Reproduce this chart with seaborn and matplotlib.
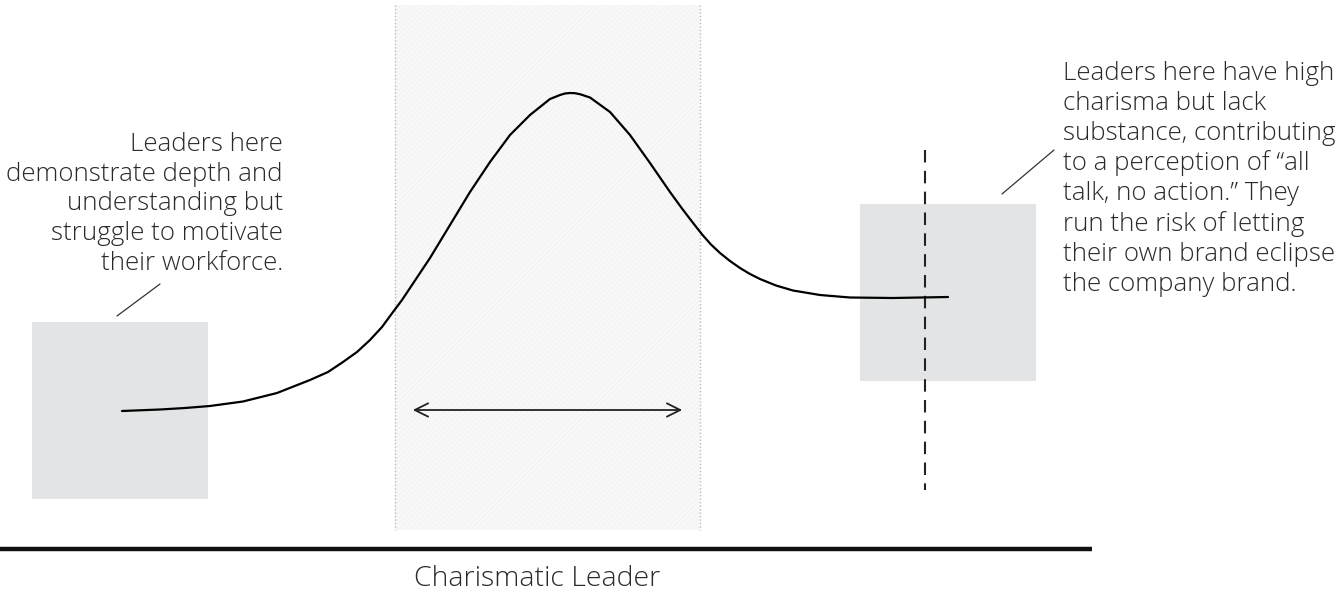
import matplotlib
matplotlib.use("Agg")
import matplotlib.pyplot as plt
import seaborn as sns
import pandas as pd
from matplotlib.patches import Rectangle

sns.set_theme(style="white")
plt.rcParams['font.family'] = ['Open Sans', 'DejaVu Sans']
plt.rcParams['hatch.linewidth'] = 0.6

# curve (x position, height in pixel units, y downward)
curve_x = [122, 160, 185, 210, 243, 277, 310, 328, 343, 357, 370, 382, 393, 402, 410, 430, 450, 470, 490,
           510, 530, 550, 560, 565, 570, 575, 580, 590, 610, 630, 650, 670, 682, 690, 697, 703, 711, 720, 730, 740,
           750, 760, 776, 793, 820, 850, 893, 948]
curve_y = [411, 409.5, 408, 406, 401.5, 393, 380, 372, 362, 352, 340, 327, 312, 300, 288, 258, 225, 192, 162,
           135, 115, 99, 95, 93.5, 93, 93.2, 94.2, 97.5, 112, 135, 163, 192, 208.5, 219, 228, 235.5, 244.5, 253, 261, 268,
           274, 279, 285.5, 290.5, 295, 297.5, 298, 297]

left_text = "Leaders here\ndemonstrate depth and\nunderstanding but\nstruggle to motivate\ntheir workforce."
right_text = ("Leaders here have high\ncharisma but lack\nsubstance, contributing\n"
              "to a perception of \u201call\ntalk, no action.\u201d They\nrun the risk of letting\n"
              "their own brand eclipse\nthe company brand.")
axis_label = "Charismatic Leader"

W, H = 1342, 592
fig = plt.figure(figsize=(W / 100, H / 100), dpi=100)
ax = fig.add_axes([0, 0, 1, 1])

# shaded middle band
ax.add_patch(Rectangle((395, 5), 305, 525, facecolor="#f8f8f8", edgecolor="#f2f2f2",
                       hatch="//////", linewidth=0, zorder=0))
for xv in (395, 700):
    ax.plot([xv, xv], [5, 530], color="#bbbbbb", lw=1, ls=(0, (1, 1.5)), zorder=1)

# grey squares
ax.add_patch(Rectangle((32, 322), 176, 177, facecolor="#e3e4e5", edgecolor="none", zorder=1))
ax.add_patch(Rectangle((860, 204), 176, 177, facecolor="#e3e4e5", edgecolor="none", zorder=1))

# dashed vertical
ax.plot([925, 925], [150, 490], color="#222222", lw=1.5, ls=(0, (6, 4)), zorder=3)

# curve
df = pd.DataFrame({"x": curve_x, "y": curve_y})
sns.lineplot(data=df, x="x", y="y", ax=ax, color="black", lw=1.6, sort=False,
             estimator=None, zorder=4)
ax.lines[-1].set_solid_joinstyle("round")
ax.set_xlim(0, W)
ax.set_ylim(H, 0)
ax.axis("off")

# double arrow
ax.annotate("", xy=(685, 410), xytext=(410, 410),
            arrowprops=dict(arrowstyle="<->,head_length=0.8,head_width=0.4", color="#222222", lw=1.3))

# leader lines
ax.plot([117, 160], [316, 284], color="#333333", lw=0.9)
ax.plot([1002, 1054], [194, 150], color="#333333", lw=0.9)

# baseline
ax.plot([0, 1092], [549, 549], color="#111111", lw=3.2, solid_capstyle="butt")

# texts
txt_kw = dict(fontsize=18.6, color="#2a2a2a", fontweight="light", linespacing=1.25)
ax.text(283, 132, left_text, ha="right", va="top", **txt_kw)
ax.text(1063, 61, right_text, ha="left", va="top", **txt_kw)
ax.text(537, 579, axis_label, ha="center", va="center", fontsize=20.5, color="#2a2a2a",
        fontweight="light")

fig.savefig("out.png", dpi=100)
